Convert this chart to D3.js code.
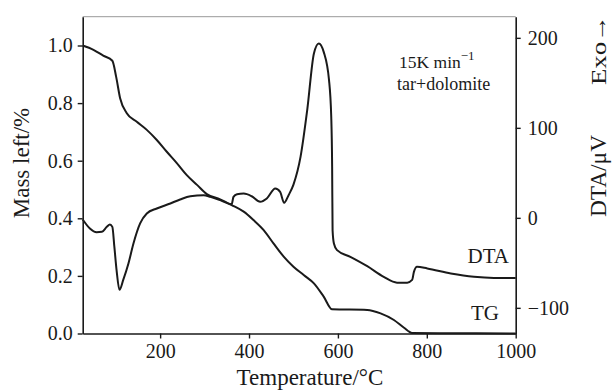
<!DOCTYPE html>
<html><head><meta charset="utf-8">
<script src="https://cdn.jsdelivr.net/npm/d3@7"></script>
<style>
body{margin:0;background:#fff;}
text{font-family:"Liberation Serif","Times New Roman",serif;fill:#1a1a1a;}
</style></head>
<body><svg id="c" width="614" height="392"></svg>
<script>
// Temperature (°C) and mass fraction for TG
const tgTemp = [25.8,50,72,92.5,101,110,125,147.5,170,192.5,215,238,260,283,305,335,361,388,410,433,455,478,500,523,546,568,587,666,696,726,748,767,850,1000];
const tgMass = [1.0,0.985,0.965,0.947,0.892,0.817,0.765,0.735,0.707,0.672,0.631,0.591,0.55,0.516,0.484,0.466,0.446,0.423,0.394,0.359,0.313,0.267,0.232,0.203,0.174,0.128,0.084,0.082,0.07,0.047,0.021,0.002,0.001,0.0];
// Temperature (°C) and DTA signal (µV)
const dtaTemp = [25.8,42,57,69,80,87,92.5,97,102,108.5,117,128.7,140,155,170,192.5,223,245,268,298,313,335,361,365,373,388,406,425,440,459,470,479,489,500,516,531,546,557,568,580,585,587,588,591,598,628,666,703,733,756,767,771,778,801,854,906,951,1000];
const dtaVal = [-1.8,-11.8,-16,-15.5,-10,-7.4,-10,-32,-58,-80,-69,-50.7,-28.5,-6.2,4.9,10.4,16,20.4,24,25.2,23.3,19.7,15.2,23.3,26.3,27,24,17.8,21.5,32.6,28.9,16.7,25.2,37,68,120,182.7,193.8,184.4,153,112,56.7,-13.7,-28.5,-35.9,-43.3,-53.7,-65.5,-72,-72,-69,-60,-54.4,-56.2,-61.8,-65.5,-66.7,-66.7];
const xTicks = [200,400,600,800,1000];
const massTicks = [0,0.2,0.4,0.6,0.8,1.0];
const dtaTicks = [-100,0,100,200];

const svg = d3.select("#c");
const L=82.7, R=515.7, T=16.7, B=333.5;
const x = d3.scaleLinear().domain([25.8,1000]).range([L,R]);
const yM = d3.scaleLinear().domain([0,1.1]).range([B,T]);
const yD = d3.scaleLinear().domain([-128.5,223.5]).range([B,T]);

// top frame
svg.append("line").attr("x1",L).attr("x2",R).attr("y1",T).attr("y2",T).attr("stroke","#999").attr("stroke-width",1);

const tickFont = 20;
function styleAxis(g){
  g.selectAll("path.domain").attr("stroke","#1a1a1a").attr("stroke-width",1.6);
  g.selectAll(".tick line").attr("stroke","#1a1a1a").attr("stroke-width",1.4);
  g.selectAll(".tick text").attr("font-size",tickFont).attr("font-family","Liberation Serif").attr("fill","#1a1a1a");
}
svg.append("g").attr("transform",`translate(0,${B})`)
  .call(d3.axisBottom(x).tickValues(xTicks).tickSize(5).tickSizeOuter(0).tickPadding(5).tickFormat(d3.format("d")))
  .call(styleAxis);
svg.append("g").attr("transform",`translate(${L},0)`)
  .call(d3.axisLeft(yM).tickValues(massTicks).tickSize(5).tickSizeOuter(0).tickPadding(5).tickFormat(d3.format(".1f")))
  .call(styleAxis);
svg.append("g").attr("transform",`translate(${R},0)`)
  .call(d3.axisRight(yD).tickValues(dtaTicks).tickSize(5).tickSizeOuter(0).tickPadding(7))
  .call(styleAxis);

const tgLine = d3.line().x((d,i)=>x(tgTemp[i])).y(d=>yM(d)).curve(d3.curveMonotoneX);
const dtaLine = d3.line().x((d,i)=>x(dtaTemp[i])).y(d=>yD(d)).curve(d3.curveMonotoneX);
svg.append("path").datum(tgMass).attr("d",tgLine).attr("fill","none").attr("stroke","#1a1a1a").attr("stroke-width",2);
svg.append("path").datum(dtaVal).attr("d",dtaLine).attr("fill","none").attr("stroke","#1a1a1a").attr("stroke-width",2);

// axis titles
svg.append("text").attr("x",310).attr("y",385).attr("text-anchor","middle").attr("font-size",23).text("Temperature/°C");
svg.append("text").attr("transform","translate(29,163) rotate(-90)").attr("text-anchor","middle").attr("font-size",23).text("Mass left/%");
svg.append("text").attr("transform","translate(606,176) rotate(-90)").attr("text-anchor","middle").attr("font-size",23)
  .attr("textLength",82).attr("lengthAdjust","spacingAndGlyphs").text("DTA/μV");
svg.append("text").attr("transform","translate(606,50) rotate(-90)").attr("text-anchor","middle").attr("font-size",22)
  .attr("textLength",70).attr("lengthAdjust","spacingAndGlyphs").text("Exo→");

// curve labels
svg.append("text").attr("x",509).attr("y",263).attr("text-anchor","end").attr("font-size",21).text("DTA");
svg.append("text").attr("x",499).attr("y",320).attr("text-anchor","end").attr("font-size",21).text("TG");

// annotation
const ann = svg.append("text").attr("x",399).attr("y",68).attr("font-size",17.5);
ann.append("tspan").text("15K min");
ann.append("tspan").attr("dy",-8).attr("font-size",13).text("−1");
svg.append("text").attr("x",397).attr("y",90).attr("font-size",18).text("tar+dolomite");
</script></body></html>
